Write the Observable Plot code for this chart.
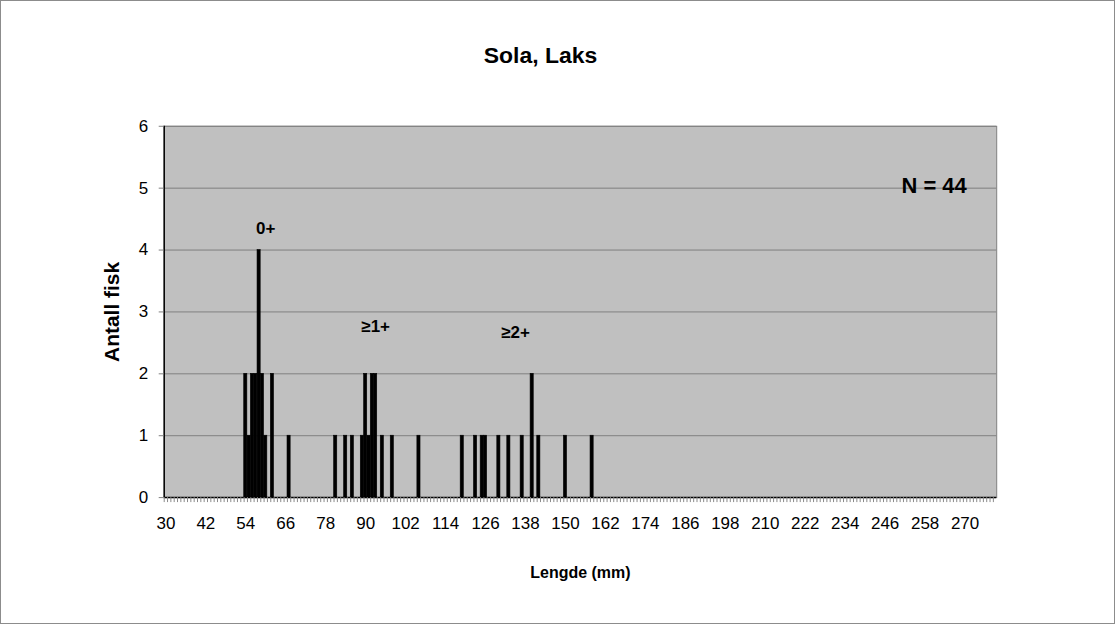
<!DOCTYPE html>
<html>
<head>
<meta charset="utf-8">
<script src="https://cdn.jsdelivr.net/npm/d3@7"></script>
<script src="https://cdn.jsdelivr.net/npm/@observablehq/plot@0.6"></script>
<style>
  html, body { margin: 0; padding: 0; background: #fff; }
  #chart { position: relative; width: 1115px; height: 624px; box-sizing: border-box; border: 1px solid #8c8c8c; overflow: hidden; }
  #chart svg { position: absolute; left: -1px; top: -1px; }
</style>
</head>
<body>
<div id="chart"></div>
<script>
// Length (mm) categories with fish counts
const lengths = [54, 55, 56, 57, 58, 59, 60, 62, 67,
                 81, 84, 86, 89, 90, 91, 92, 93, 95, 98, 106,
                 119, 123, 125, 126, 130, 133, 137, 140, 142, 150, 158];
const counts  = [2, 1, 2, 2, 4, 2, 1, 2, 1,
                 1, 1, 1, 1, 2, 1, 2, 2, 1, 1, 1,
                 1, 1, 1, 1, 1, 1, 1, 2, 1, 1, 1];
const categories = d3.range(30, 280);
const xTickLabels = [30, 42, 54, 66, 78, 90, 102, 114, 126, 138, 150, 162, 174, 186, 198, 210, 222, 234, 246, 258, 270];
const yTicks = [0, 1, 2, 3, 4, 5, 6];
const groupLabels = ["0+", "≥1+", "≥2+"];
const groupX = [60, 93, 135];
const groupY = [4.35, 2.76, 2.66];
const title = "Sola, Laks";
const xTitle = "Lengde (mm)";
const yTitle = "Antall fisk";
const nLabel = "N = 44";

const data = lengths.map((l, i) => ({mm: l, n: counts[i]}));
const groups = groupLabels.map((g, i) => ({label: g, x: groupX[i], y: groupY[i]}));

const W = 1115, H = 624;
const mL = 164, mR = 117, mT = 126, mB = 126;
const step = (W - mL - mR) / categories.length;
const font = "'Liberation Sans', Arial, sans-serif";

const chart = Plot.plot({
  width: W,
  height: H,
  marginLeft: mL,
  marginRight: mR,
  marginTop: mT,
  marginBottom: mB,
  style: {fontFamily: font, fontSize: "17px", color: "#000", background: "transparent"},
  x: {type: "band", domain: categories, paddingInner: 0.06, paddingOuter: 0.03, round: false},
  y: {domain: [0, 6]},
  marks: [
    Plot.frame({fill: "#c0c0c0", stroke: "#808080"}),
    Plot.gridY(yTicks.slice(1), {stroke: "#808080", strokeOpacity: 1, strokeWidth: 1}),
    Plot.barY(data, {x: "mm", y: "n", fill: "#000", stroke: "#000", strokeWidth: 0.6}),
    Plot.ruleY([0], {stroke: "#000", strokeWidth: 1.5}),
    Plot.ruleX([categories[0]], {stroke: "#000", strokeWidth: 1.5, dx: -step / 2}),
    Plot.axisY({ticks: yTicks, tickFormat: d3.format("d"), tickSize: 5, tickPadding: 11, stroke: "#808080", label: null, fontSize: 17}),
    Plot.axisX({ticks: categories, tickFormat: () => "", tickSize: 5, dx: -step / 2, stroke: "#8a8a8a", label: null}),
    Plot.axisX({ticks: xTickLabels, tickSize: 0, tickPadding: 19, label: null, fontSize: 17}),
    Plot.text(groups, {x: "x", y: "y", text: "label", fontWeight: "bold", fontSize: 17}),
    Plot.text([nLabel], {frameAnchor: "top-right", dx: -30, dy: 60, textAnchor: "end", lineAnchor: "middle", fontWeight: "bold", fontSize: 22}),
    Plot.text([title], {frameAnchor: "top", dx: -40, dy: -71, textAnchor: "middle", lineAnchor: "middle", fontWeight: "bold", fontSize: 23}),
    Plot.text([xTitle], {frameAnchor: "bottom", dy: 75, textAnchor: "middle", lineAnchor: "middle", fontWeight: "bold", fontSize: 16}),
    Plot.text([yTitle], {frameAnchor: "left", dx: -52, rotate: -90, textAnchor: "middle", lineAnchor: "middle", fontWeight: "bold", fontSize: 21})
  ]
});
document.getElementById("chart").appendChild(chart);
</script>
</body>
</html>
